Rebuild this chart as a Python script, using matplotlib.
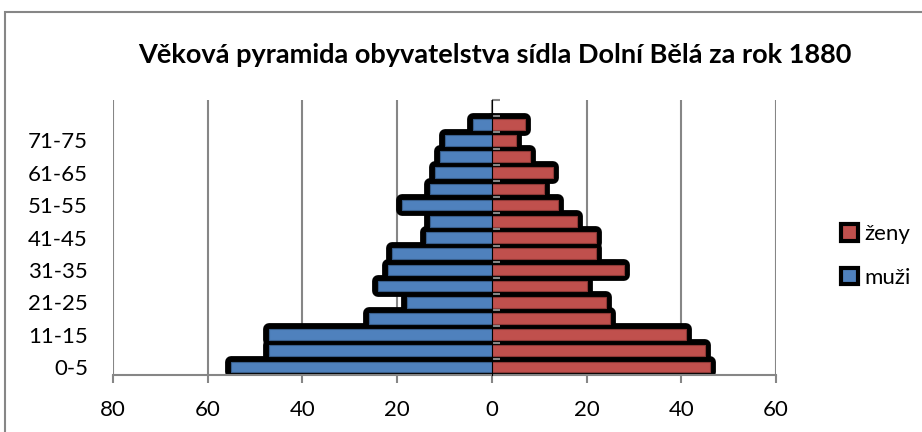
"""
Population pyramid of Dolní Bělá, 1880 (Excel-style chart).
"""
import matplotlib.pyplot as plt
import numpy as np
from matplotlib.patches import Patch, Rectangle

# -----------------------------------------------------------------------------
# Data
# -----------------------------------------------------------------------------
ages = ["0-5", "6-10", "11-15", "16-20", "21-25", "26-30", "31-35", "36-40",
        "41-45", "46-50", "51-55", "56-60", "61-65", "66-70", "71-75", "76-80"]
muzi = [55, 47, 47, 26, 18, 24, 22, 21, 14, 13, 19, 13, 12, 11, 10, 4]
zeny = [46, 45, 41, 25, 24, 20, 28, 22, 22, 18, 14, 11, 13, 8, 5, 7]
x_ticks = [-80, -60, -40, -20, 0, 20, 40, 60]
x_tick_labels = ["80", "60", "40", "20", "0", "20", "40", "60"]

TITLE = "Věková pyramida obyvatelstva sídla Dolní Bělá za rok 1880"

# -----------------------------------------------------------------------------
# Style
# -----------------------------------------------------------------------------
plt.rcParams["font.family"] = ["Lato", "DejaVu Sans"]
BLUE, BLUE_EDGE = "#4F81BD", "#385D8A"
RED, RED_EDGE = "#C0504D", "#8C3836"
GREY = "#868686"
XMIN, XMAX = -80, 60
BAR_H = 0.66

fig = plt.figure(figsize=(9.22, 4.32), dpi=100)
ax = fig.add_axes([113 / 922, 1 - 375 / 432, 663 / 922, 275 / 432])

y = np.arange(len(ages))
neg_muzi = [-v for v in muzi]

# thick black outline first, then the coloured fill on top
ax.barh(y, neg_muzi, height=BAR_H, color="black", edgecolor="black",
        linewidth=8.5, joinstyle="round", zorder=2)
ax.barh(y, zeny, height=BAR_H, color="black", edgecolor="black",
        linewidth=8.5, joinstyle="round", zorder=2)
ax.barh(y, neg_muzi, height=BAR_H, color=BLUE, edgecolor=BLUE_EDGE,
        linewidth=0.8, zorder=3)
ax.barh(y, zeny, height=BAR_H, color=RED, edgecolor=RED_EDGE,
        linewidth=0.8, zorder=3)

ax.set_xlim(XMIN, XMAX)
ax.set_ylim(-0.5, len(ages) + 0.5)

ax.set_xticks(x_ticks)
ax.set_xticklabels(x_tick_labels, fontsize=16)
ax.set_yticks(y[::2])
ax.set_yticklabels(ages[::2], fontsize=16)
ax.tick_params(axis="y", length=0, pad=18)
ax.tick_params(axis="x", direction="out", length=6, width=1.5, color=GREY, pad=12)

for s in ["top", "right", "left"]:
    ax.spines[s].set_visible(False)
ax.spines["bottom"].set_color(GREY)
ax.spines["bottom"].set_linewidth(1.5)

ax.grid(axis="x", color=GREY, linewidth=1.5, zorder=0)
ax.set_axisbelow(True)

# vertical category axis sitting at x = 0
sec = ax.secondary_yaxis((0 - XMIN) / (XMAX - XMIN))
sec.set_yticks(np.arange(-0.5, len(ages) + 1, 1))
sec.set_yticklabels([])
sec.tick_params(axis="y", direction="out", length=6, width=1.5, color=GREY,
                labelleft=False, labelright=False)
sec.spines["left"].set_color(GREY)
sec.spines["left"].set_linewidth(1.5)
sec.set_zorder(5)

# legend
handles = [
    Patch(facecolor=RED, edgecolor="black", linewidth=3, label="ženy"),
    Patch(facecolor=BLUE, edgecolor="black", linewidth=3, label="muži"),
]
fig.legend(handles=handles, loc="center left",
           bbox_to_anchor=(830 / 922, 1 - 256 / 432), frameon=False,
           fontsize=16, handlelength=0.75, handleheight=0.75,
           handletextpad=0.3, labelspacing=1.05, borderpad=0)

fig.text(495 / 922, 1 - 55 / 432, TITLE, ha="center", va="center",
         fontsize=19.5, fontweight="bold")

# chart area border (cut off on the right and bottom)
fig.patches.append(Rectangle((5 / 922, -0.1), 1.2, 1 - 12 / 432 + 0.1,
                             transform=fig.transFigure, fill=False,
                             edgecolor=GREY, linewidth=1.5))

fig.savefig("out.png", dpi=100)
